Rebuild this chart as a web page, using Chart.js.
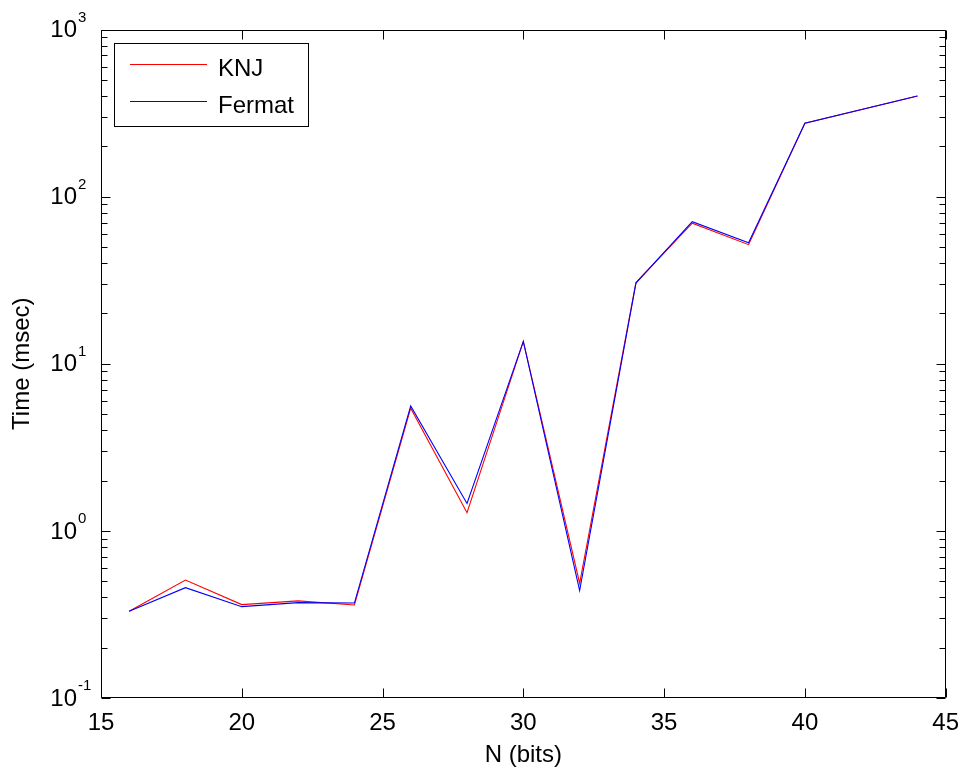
<!DOCTYPE html>
<html>
<head>
<meta charset="utf-8">
<script src="https://cdn.jsdelivr.net/npm/chart.js@4/dist/chart.umd.min.js"></script>
<style>
  html, body { margin: 0; padding: 0; background: #fff; }
  canvas { display: block; }
</style>
</head>
<body>
<canvas id="c" width="970" height="773"></canvas>
<script>
// ---- data ----
const nBits      = [16, 18, 20, 22, 24, 26, 28, 30, 32, 34, 36, 38, 40, 44];
const knjTime    = [0.33, 0.508, 0.362, 0.381, 0.360, 5.42, 1.285, 13.6, 0.486, 30.6, 69.3, 51.6, 275, 400];
const fermatTime = [0.33, 0.457, 0.352, 0.372, 0.370, 5.59, 1.46, 13.6, 0.439, 30.4, 70.8, 53.0, 275, 400];
const seriesNames = ['KNJ', 'Fermat'];
const xTicks = [15, 20, 25, 30, 35, 40, 45];
const yExponents = [-1, 0, 1, 2, 3];

const FONT = "'Liberation Sans', Arial, sans-serif";

function pts(ys) { return nBits.map((x, i) => ({ x: x, y: ys[i] })); }

const matlabPlugin = {
  id: 'matlab',
  afterDraw(chart) {
    const ctx = chart.ctx;
    const a = chart.chartArea;
    const xs = chart.scales.x, ys = chart.scales.y;
    ctx.save();
    ctx.strokeStyle = '#000';
    ctx.lineWidth = 1;
    // box
    const L = Math.round(a.left) + 0.5, R = Math.round(a.right) - 0.5;
    const T = Math.round(a.top) + 0.5, B = Math.round(a.bottom) - 0.5;
    ctx.beginPath();
    ctx.rect(L, T, R - L, B - T);
    ctx.stroke();
    // x ticks (bottom & top, inward)
    const major = 9, minor = 6;
    ctx.beginPath();
    xTicks.forEach(v => {
      const px = Math.round(xs.getPixelForValue(v)) + 0.5;
      ctx.moveTo(px, B); ctx.lineTo(px, B - major);
      ctx.moveTo(px, T); ctx.lineTo(px, T + major);
    });
    // y ticks (left & right, inward) incl. minor
    yExponents.forEach(e => {
      for (let m = 1; m <= 9; m++) {
        const v = m * Math.pow(10, e);
        if (v > 1000 + 1e-9) break;
        const py = Math.round(ys.getPixelForValue(v)) + 0.5;
        const len = m === 1 ? major : minor;
        ctx.moveTo(L, py); ctx.lineTo(L + len, py);
        ctx.moveTo(R, py); ctx.lineTo(R - len, py);
      }
    });
    ctx.stroke();
    // y tick labels: 10^e
    ctx.fillStyle = '#000';
    yExponents.forEach(e => {
      const py = ys.getPixelForValue(Math.pow(10, e));
      ctx.font = '24px ' + FONT;
      ctx.textAlign = 'right';
      ctx.textBaseline = 'middle';
      ctx.fillText('10', 77, py + 1);
      ctx.font = '15px ' + FONT;
      ctx.textAlign = 'left';
      ctx.fillText(String(e), 78, py - 12);
    });
    // legend
    const lx = 114.5, ly = 43.5, lw = 194, lh = 83;
    ctx.fillStyle = '#fff';
    ctx.fillRect(lx, ly, lw, lh);
    ctx.strokeStyle = '#000';
    ctx.lineWidth = 1;
    ctx.strokeRect(lx, ly, lw, lh);
    const rowsY = [64.5, 101.5];
    chart.data.datasets.forEach((ds, i) => {
      ctx.strokeStyle = ds.borderColor;
      ctx.lineWidth = 1;
      ctx.beginPath();
      ctx.moveTo(130, rowsY[i]); ctx.lineTo(207, rowsY[i]);
      ctx.stroke();
      ctx.fillStyle = '#000';
      ctx.font = '24px ' + FONT;
      ctx.textAlign = 'left';
      ctx.textBaseline = 'middle';
      ctx.fillText(ds.label, 218, rowsY[i] + 4.5);
    });
    ctx.restore();
  }
};

new Chart(document.getElementById('c'), {
  type: 'line',
  data: {
    datasets: [
      { label: seriesNames[0], data: pts(knjTime), borderColor: '#ff0000', borderWidth: 1.1, pointRadius: 0, fill: false, tension: 0, order: 1 },
      { label: seriesNames[1], data: pts(fermatTime), borderColor: '#0000ff', borderWidth: 1.1, pointRadius: 0, fill: false, tension: 0, order: 0 }
    ]
  },
  options: {
    responsive: false,
    animation: false,
    devicePixelRatio: 1,
    layout: { padding: { top: 29.5, right: 21, bottom: 0, left: 0 } },
    plugins: { legend: { display: false }, tooltip: { enabled: false } },
    scales: {
      x: {
        type: 'linear', min: 15, max: 45, position: 'bottom',
        afterBuildTicks: s => { s.ticks = xTicks.map(v => ({ value: v })); },
        ticks: { font: { family: FONT, size: 24 }, color: '#000', padding: 11, maxRotation: 0, autoSkip: false },
        grid: { display: false, drawTicks: false },
        border: { display: false },
        title: { display: true, text: 'N (bits)', color: '#000', font: { family: FONT, size: 24 }, padding: { top: 0, bottom: 3 } },
        afterFit: s => { s.height = 75; }
      },
      y: {
        type: 'logarithmic', min: 0.1, max: 1000,
        ticks: { display: false },
        grid: { display: false, drawTicks: false },
        border: { display: false },
        title: { display: true, text: 'Time (msec)', color: '#000', font: { family: FONT, size: 24 }, padding: { top: 8, bottom: 0 } },
        afterFit: s => { s.width = 101; }
      }
    }
  },
  plugins: [matlabPlugin]
});
</script>
</body>
</html>
